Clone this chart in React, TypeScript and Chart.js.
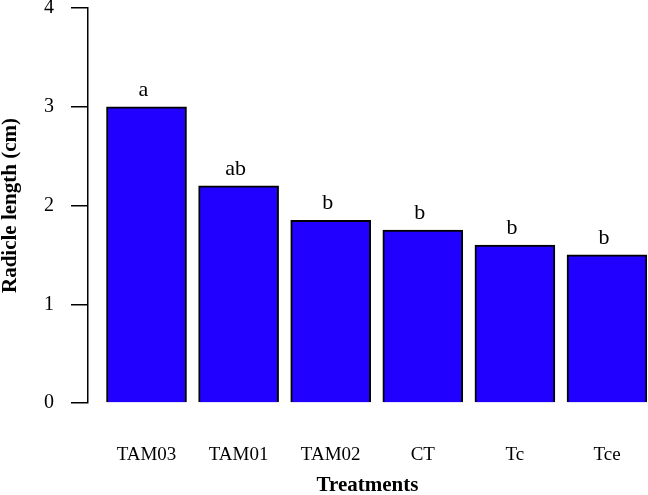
import React, { useEffect, useRef } from "react";
import { Chart, registerables } from "chart.js";

Chart.register(...registerables);

const categories = ["TAM03", "TAM01", "TAM02", "CT", "Tc", "Tce"];
const values = [3.0, 2.2, 1.85, 1.75, 1.6, 1.5];
const letters = ["a", "ab", "b", "b", "b", "b"];
const yTicks = [0, 1, 2, 3, 4];

const FONT = "'Liberation Serif', 'Times New Roman', serif";

const letterPlugin = {
  id: "letters",
  afterDatasetsDraw(chart: any) {
    const ctx = chart.ctx;
    const meta = chart.getDatasetMeta(0);
    ctx.save();
    ctx.font = `22px ${FONT}`;
    ctx.fillStyle = "#000";
    ctx.textAlign = "center";
    ctx.textBaseline = "alphabetic";
    meta.data.forEach((bar: any, i: number) => {
      ctx.fillText(letters[i], bar.x - 3, bar.y - 11);
    });
    ctx.restore();
  },
};

export default function App() {
  const ref = useRef<HTMLCanvasElement>(null);
  useEffect(() => {
    if (!ref.current) return;
    const chart = new Chart(ref.current, {
      type: "bar",
      data: {
        datasets: [
          {
            data: categories.map((c, i) => ({ x: i, y: values[i] })),
            backgroundColor: "#2200FF",
            borderColor: "#000",
            borderWidth: 2,
            barThickness: 80,
          },
        ],
      },
      options: {
        animation: false,
        responsive: false,
        maintainAspectRatio: false,
        layout: { padding: { top: 8, right: 1, left: 0, bottom: 0 } },
        plugins: { legend: { display: false }, tooltip: { enabled: false } },
        scales: {
          x: {
            type: "linear",
            offset: false,
            min: -0.6352,
            max: 5.4343,
            grid: { display: false, drawTicks: false, offset: false },
            border: { display: false },
            afterBuildTicks: (scale: any) => {
              scale.ticks = categories.map((_, i) => ({ value: i }));
            },
            afterFit: (scale: any) => {
              scale.height = 92;
              scale.paddingLeft = 0;
              scale.paddingRight = 0;
            },
            ticks: {
              autoSkip: false,
              maxRotation: 0,
              padding: 41,
              color: "#000",
              font: { family: FONT, size: 19 },
              callback: (v: any) => categories[Math.round(Number(v))] ?? "",
            },
            title: {
              display: true,
              text: "Treatments",
              color: "#000",
              padding: 0,
              font: { family: FONT, size: 21, weight: "bold", lineHeight: 0.86 },
            },
          },
          y: {
            min: 0,
            max: 4,
            afterBuildTicks: (scale: any) => {
              scale.ticks = yTicks.map((v) => ({ value: v }));
            },
            afterFit: (scale: any) => {
              scale.width = 88;
              scale.paddingTop = 0;
              scale.paddingBottom = 0;
            },
            grid: {
              drawOnChartArea: false,
              drawTicks: true,
              tickLength: 17,
              color: "#000",
              lineWidth: 1.5,
            },
            border: { display: true, color: "#000", width: 1.5 },
            ticks: {
              padding: 17,
              color: "#000",
              font: { family: FONT, size: 20 },
            },
            title: {
              display: true,
              text: "Radicle length (cm)",
              color: "#000",
              padding: 0,
              font: { family: FONT, size: 21, weight: "bold", lineHeight: 1 },
            },
          },
        },
      },
      plugins: [letterPlugin],
    });
    return () => chart.destroy();
  }, []);
  return (
    <div style={{ position: "fixed", left: 0, top: 0, width: 648, height: 495, background: "#fff" }}>
      <canvas ref={ref} width={648} height={495} style={{ display: "block" }} />
    </div>
  );
}
